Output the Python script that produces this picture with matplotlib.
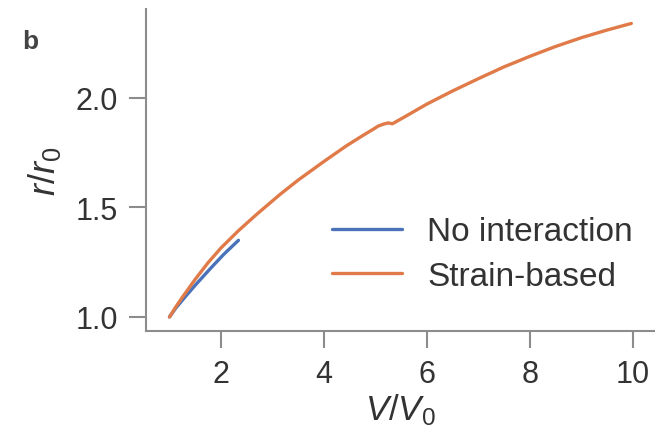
import matplotlib
matplotlib.use("Agg")
import matplotlib.pyplot as plt

plt.rcParams['font.family'] = ['Liberation Sans', 'DejaVu Sans']
plt.rcParams['mathtext.fontset'] = 'custom'
plt.rcParams['mathtext.rm'] = 'Liberation Sans'
plt.rcParams['mathtext.it'] = 'Liberation Sans:italic'

# Data
v_no = [1.0, 1.12, 1.28, 1.5, 1.79, 2.05, 2.34]
r_no = [1.0, 1.04, 1.085, 1.145, 1.22, 1.285, 1.35]

v_strain = [1.0, 1.12, 1.25, 1.5, 1.75, 2.0, 2.34, 2.7, 3.15, 3.5, 4.0, 4.44,
            4.8, 4.95, 5.05, 5.15, 5.25, 5.33, 5.42, 5.6, 6.0, 6.5, 7.0, 7.5,
            8.0, 8.5, 9.0, 9.5, 9.97]
r_strain = [1.0, 1.045, 1.09, 1.172, 1.248, 1.315, 1.394, 1.47, 1.56, 1.625,
            1.71, 1.782, 1.835, 1.856, 1.871, 1.880, 1.886, 1.882, 1.894,
            1.918, 1.972, 2.032, 2.088, 2.142, 2.19, 2.235, 2.275, 2.31, 2.34]

labels = ["No interaction", "Strain-based"]
xticks = [2, 4, 6, 8, 10]
yticks = [1.0, 1.5, 2.0]

W, H = 655, 435
fig = plt.figure(figsize=(W / 100, H / 100), dpi=100)
ax = fig.add_axes([146 / W, (H - 332) / H, (W - 146) / W, (332 - 10) / H])

blue = '#4a72b8'
orange = '#e07b49'
ax.plot(v_no, r_no, color=blue, lw=2.4, label=labels[0], solid_capstyle='round',
        solid_joinstyle='round')
ax.plot(v_strain, r_strain, color=orange, lw=2.4, label=labels[1],
        solid_capstyle='round', solid_joinstyle='round')

ax.set_xlim(0.544, 10.43)
ax.set_ylim(0.936, 2.406)
ax.set_xticks(xticks)
ax.set_yticks(yticks)
ax.set_yticklabels([f"{t:.1f}" for t in yticks])

spine_col = '#8c8c8c'
for s in ['top', 'right']:
    ax.spines[s].set_visible(False)
for s in ['left', 'bottom']:
    ax.spines[s].set_color(spine_col)
    ax.spines[s].set_linewidth(1.5)
ax.tick_params(axis='both', colors=spine_col, length=12, width=1.5,
               labelsize=22, labelcolor='#333333', pad=8)

ax.set_xlabel(r'$V/V_{\mathrm{0}}$', fontsize=25, color='#333333', labelpad=2)
ax.set_ylabel(r'$r/r_{\mathrm{0}}$', fontsize=26, color='#333333', labelpad=9)

fig.text(22 / W, 1 - 49 / H, 'b', fontsize=19, fontweight='bold', color='#444444')

leg = ax.legend(loc='center left', bbox_to_anchor=(332 / W, 1 - 255 / H),
                bbox_transform=fig.transFigure, frameon=False, fontsize=24,
                handlelength=2.1, handletextpad=0.75, labelspacing=0.4,
                borderpad=0, borderaxespad=0)
for t in leg.get_texts():
    t.set_color('#333333')

fig.savefig('out.png', dpi=100)
